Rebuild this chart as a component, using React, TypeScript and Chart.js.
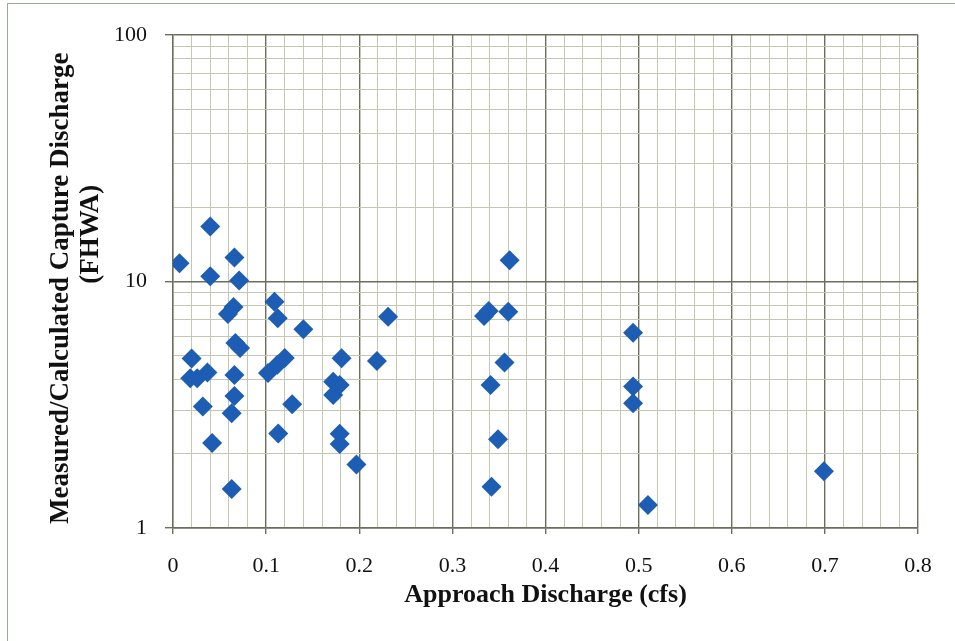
import React, { useEffect, useRef } from "react";
import { Chart, registerables } from "chart.js";

Chart.register(...registerables);

// Approach discharge (cfs)
const xValues = [
  0.007, 0.04, 0.04, 0.066, 0.071, 0.059, 0.065, 0.067, 0.072, 0.02,
  0.0185, 0.026, 0.037, 0.066, 0.066, 0.032, 0.063, 0.042, 0.063, 0.109,
  0.1125, 0.14, 0.102, 0.112, 0.12, 0.128, 0.113, 0.181, 0.172, 0.179,
  0.172, 0.179, 0.179, 0.197, 0.219, 0.231, 0.334, 0.339, 0.36, 0.3615,
  0.356, 0.341, 0.349, 0.342, 0.494, 0.494, 0.494, 0.51, 0.699,
];
// Measured / calculated capture discharge (FHWA)
const yValues = [
  11.86, 16.7, 10.5, 12.5, 10.1, 7.38, 7.88, 5.63, 5.37, 4.87,
  4.05, 4.05, 4.27, 4.18, 3.43, 3.11, 2.92, 2.21, 1.44, 8.28,
  7.09, 6.4, 4.25, 4.59, 4.89, 3.18, 2.42, 4.88, 3.92, 3.8,
  3.46, 2.41, 2.19, 1.81, 4.76, 7.2, 7.25, 7.6, 7.54, 12.2,
  4.69, 3.8, 2.29, 1.47, 6.2, 3.75, 3.21, 1.24, 1.7,
];

const yGridValues = [1, 2, 3, 4, 5, 6, 7, 8, 9, 10, 20, 30, 40, 50, 60, 70, 80, 90, 100];
const yTickLabels = ["1", "10", "100"];
const xTickLabels = ["0", "0.1", "0.2", "0.3", "0.4", "0.5", "0.6", "0.7", "0.8"];

const xTitle = "Approach Discharge (cfs)";
const yTitleLines = [
  "Measured/Calculated Capture Discharge\u00A0\u00A0",
  "\u00A0".repeat(14) + "(FHWA)",
];

const MAJOR = "#6c6e5c";
const MINOR = "#c4c7b2";
const SERIF = "'Liberation Serif', 'Times New Roman', serif";

const isXMajor = (v: number) => Math.abs(v * 10 - Math.round(v * 10)) < 1e-6;
const isYMajor = (v: number) => yTickLabels.includes(String(v));

export default function App() {
  const ref = useRef<HTMLCanvasElement | null>(null);

  useEffect(() => {
    if (!ref.current) return;
    const points = xValues.map((x, i) => ({ x, y: yValues[i] }));
    const chart = new Chart(ref.current, {
      type: "scatter",
      data: {
        datasets: [
          {
            data: points,
            pointStyle: "rectRot",
            pointRadius: 10,
            pointHoverRadius: 10,
            backgroundColor: "#1d5db3",
            borderColor: "#1d5db3",
            borderWidth: 0,
          },
        ],
      },
      options: {
        responsive: false,
        animation: false,
        layout: { padding: { top: 35, right: 37, bottom: 0, left: 0 } },
        plugins: { legend: { display: false }, tooltip: { enabled: false } },
        scales: {
          x: {
            type: "linear",
            min: 0,
            max: 0.8,
            afterFit: (s: any) => {
              s.height = 113;
            },
            ticks: {
              stepSize: 0.02,
              autoSkip: false,
              maxRotation: 0,
              padding: 19,
              color: "#111",
              font: { family: SERIF, size: 22 },
              callback: (v: any) => {
                const n = Number(v);
                if (!isXMajor(n)) return "";
                return xTickLabels[Math.round(n * 10)] ?? "";
              },
            },
            grid: {
              color: (c: any) => (c.tick && isXMajor(c.tick.value) ? MAJOR : MINOR),
              lineWidth: (c: any) => (c.tick && isXMajor(c.tick.value) ? 1.4 : 1),
              tickColor: (c: any) => (c.tick && isXMajor(c.tick.value) ? MAJOR : "rgba(0,0,0,0)"),
              tickLength: 6,
            },
            border: { color: MAJOR, width: 1.4 },
            title: {
              display: true,
              text: xTitle,
              color: "#111",
              font: { family: SERIF, size: 26, weight: "bold", lineHeight: 1.2 },
              padding: { top: 0, bottom: 30 },
            },
          },
          y: {
            type: "logarithmic",
            min: 1,
            max: 100,
            afterFit: (s: any) => {
              s.width = 173;
            },
            afterBuildTicks: (s: any) => {
              s.ticks = yGridValues.map((v) => ({ value: v }));
            },
            ticks: {
              autoSkip: false,
              padding: 18,
              color: "#111",
              font: { family: SERIF, size: 22 },
              callback: (v: any) => (isYMajor(Number(v)) ? String(v) : ""),
            },
            grid: {
              color: (c: any) => (c.tick && isYMajor(c.tick.value) ? MAJOR : MINOR),
              lineWidth: (c: any) => (c.tick && isYMajor(c.tick.value) ? 1.4 : 1),
              tickColor: (c: any) => (c.tick && isYMajor(c.tick.value) ? MAJOR : "rgba(0,0,0,0)"),
              tickLength: 8,
            },
            border: { color: MAJOR, width: 1.4 },
            title: {
              display: true,
              text: yTitleLines,
              color: "#111",
              font: { family: SERIF, size: 27, weight: "bold", lineHeight: 1.1 },
              padding: { top: 46, bottom: 0 },
            },
          },
        },
      },
    });
    return () => chart.destroy();
  }, []);

  return (
    <div style={{ position: "absolute", left: 0, top: 0, width: 955, height: 641, background: "#fff" }}>
      <div
        style={{
          position: "absolute",
          left: 7,
          top: 3,
          width: 948,
          height: 638,
          borderLeft: "1px solid #98aa98",
          borderTop: "1px solid #98aa98",
        }}
      />
      <canvas
        ref={ref}
        width={955}
        height={641}
        style={{ position: "absolute", left: 0, top: 0, width: 955, height: 641 }}
      />
    </div>
  );
}
